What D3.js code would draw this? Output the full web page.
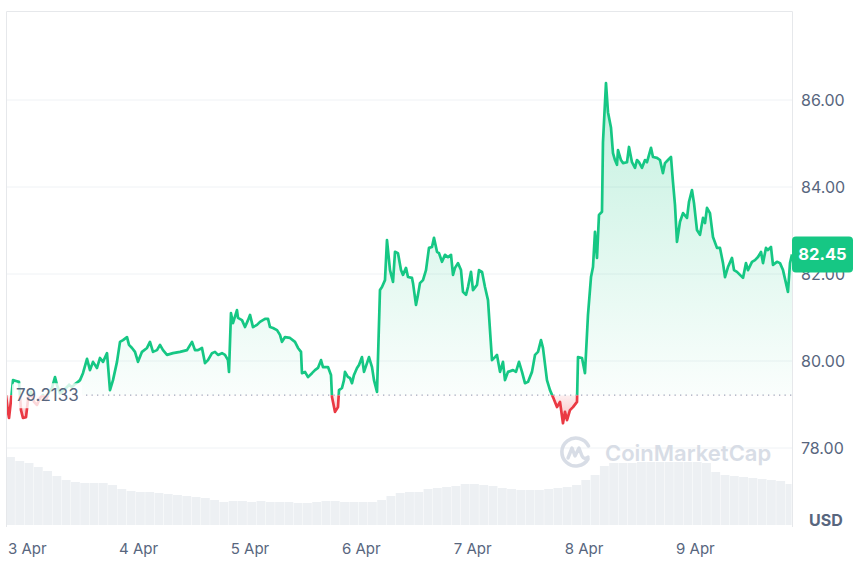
<!DOCTYPE html>
<html>
<head>
<meta charset="utf-8">
<script src="https://cdn.jsdelivr.net/npm/d3@7"></script>
<style>
  html, body { margin: 0; padding: 0; background: #ffffff; }
  svg { display: block; font-family: Inter, "Noto Sans", sans-serif; }
</style>
</head>
<body>
<svg id="chart" width="859" height="561"></svg>
<script>
// ---------- DATA ----------
const startTime = Date.UTC(2025, 3, 2, 19, 25);   // 2 Apr 19:25 UTC
const spanHours = 169.4;
const baselinePrice = 79.2133;
const lastPrice = 82.45;
const yTickValues = [78, 80, 82, 84, 86];
const dayTicks = ["3 Apr", "4 Apr", "5 Apr", "6 Apr", "7 Apr", "8 Apr", "9 Apr"];

// hours since start
const priceHours = [
  0,0.43,0.65,1.08,1.51,2.16,2.80,3.23,3.66,4.31,4.74,5.39,6.03,6.68,7.33,7.97,8.62,9.27,9.91,10.56,10.99,11.64,12.28,12.93,13.58,14.22,14.87,15.52,
  15.95,16.59,17.46,18.10,18.75,19.61,20.26,20.91,21.77,22.41,23.06,23.92,24.57,25.22,26.08,26.51,27.16,27.80,28.45,29.31,30.39,31.03,31.68,32.54,33.19,33.84,34.70,35.99,37.50,39.01,40.09,40.73,41.38,42.24,42.89,43.53,44.40,45.04,45.69,46.55,47.20,47.84,48.06,48.49,48.92,49.78,50.00,50.86,51.51,52.16,52.59,53.23,54.09,54.74,55.82,56.47,56.90,57.54,58.41,59.05,59.48,60.13,61.21,62.28,62.93,63.58,63.79,64.44,65.09,65.95,66.59,67.24,67.89,68.32,69.40,70.04,70.26,70.91,71.55,71.77,72.41,72.84,73.06,73.71,74.14,74.57,75.00,75.65,76.08,76.72,77.16,77.80,78.23,78.88,79.31,79.96,
  80.60,81.03,81.68,82.11,82.76,83.41,83.84,84.48,85.13,85.56,86.21,86.64,87.50,87.72,88.36,88.79,89.22,89.87,90.52,91.16,91.81,92.24,92.89,93.32,93.97,94.61,95.26,95.91,96.34,96.77,97.41,98.06,98.49,99.14,99.57,100.22,100.65,101.51,101.94,102.59,103.23,103.88,104.74,105.39,105.82,106.47,107.11,107.54,108.19,109.27,109.91,110.56,111.21,111.85,112.50,113.36,114.01,114.66,115.30,115.73,116.59,117.24,117.89,118.75,119.40,120.04,120.47,120.91,121.55,122.20,123.06,
  123.28,124.14,124.78,125.43,126.08,126.51,126.94,127.37,127.80,128.45,128.66,129.31,129.74,130.39,130.82,131.25,131.68,131.90,132.54,132.97,133.84,134.27,134.91,135.56,135.99,136.42,137.07,137.72,138.15,139.01,139.44,140.30,140.95,141.59,142.03,142.67,143.32,143.75,144.18,144.61,145.26,145.91,146.77,147.20,147.84,148.28,148.92,149.57,150.22,150.65,151.08,151.72,152.37,153.23,153.88,154.53,154.96,155.60,156.47,156.90,157.54,158.19,158.84,159.48,159.91,160.78,161.42,162.07,162.72,163.15,163.79,164.22,164.87,165.30,166.16,166.81,167.46,168.10,168.53,168.97,169.40
];
const prices = [
  79.2133,78.83,78.69,79.10,79.56,79.54,79.52,78.87,78.69,78.71,79.10,79.29,79.06,78.99,79.15,79.22,79.10,79.29,79.38,79.63,79.45,79.26,79.33,79.38,79.45,79.40,79.47,79.52,
  79.56,79.72,80.05,79.79,79.98,79.84,80.07,79.98,80.18,79.33,79.56,79.98,80.44,80.48,80.55,80.37,80.30,80.21,79.98,80.21,80.30,80.44,80.21,80.25,80.37,80.25,80.14,80.18,80.21,80.25,80.44,80.25,80.25,80.30,79.95,80.02,80.18,80.21,80.14,80.18,80.14,80.02,79.75,81.10,80.87,81.17,80.99,80.94,80.78,80.94,81.06,80.78,80.83,80.90,80.97,80.97,80.78,80.76,80.71,80.60,80.44,80.55,80.53,80.44,80.30,80.21,79.72,79.75,79.63,79.72,79.79,79.84,80.02,79.86,79.86,79.68,79.17,78.83,78.94,79.33,79.38,79.56,79.75,79.63,79.61,79.49,79.68,79.84,79.91,80.09,79.75,79.95,80.09,79.86,79.56,79.29,
  81.63,81.70,81.86,82.78,82.09,81.82,82.51,82.48,82.09,81.98,82.14,81.93,81.91,81.79,81.29,81.52,81.79,81.86,82.09,82.60,82.62,82.83,82.51,82.48,82.28,82.44,82.39,82.44,81.98,82.14,82.25,82.09,81.59,81.52,81.70,82.05,81.63,81.75,82.09,82.05,81.70,81.40,80.02,80.09,80.14,79.75,79.98,79.56,79.75,79.79,79.75,79.98,79.75,79.49,79.52,79.75,80.14,80.21,80.48,80.30,79.56,79.33,79.17,78.94,79.06,78.57,78.83,78.64,78.87,78.94,79.06,
  80.09,80.07,79.72,81.06,81.93,82.16,82.97,82.37,83.36,83.43,85.03,86.39,85.72,85.36,84.78,84.62,84.51,84.85,84.62,84.55,84.57,84.92,84.57,84.44,84.62,84.57,84.44,84.62,84.57,84.90,84.69,84.67,84.62,84.32,84.55,84.62,84.69,84.11,83.59,82.74,83.20,83.40,83.29,83.66,83.93,83.63,83.01,82.90,83.29,83.17,83.52,83.40,82.85,82.60,82.60,82.25,81.93,82.16,82.37,82.09,82.05,81.98,81.91,82.25,82.09,82.28,82.32,82.39,82.51,82.25,82.60,82.55,82.62,82.21,82.28,82.25,82.09,81.79,81.59,82.25,82.45
];
// 24h volume (million USD), one value every 2 hours from start
const volumeStepHours = 2;
const volumes = [
  1360,1280,1240,1160,1080,980,900,860,840,840,840,800,720,680,660,660,640,620,600,580,560,540,500,460,480,480,460,480,460,460,
  460,440,440,460,480,480,460,460,460,460,500,580,640,660,660,720,740,760,780,820,820,800,780,740,720,700,700,700,720,740,
  760,800,900,1000,1180,1240,1240,1240,1260,1260,1260,1260,1260,1260,1260,1240,1060,1000,980,960,940,920,900,880,820
];

// ---------- CHART ----------
const svg = d3.select("#chart");
const L = 6, R = 792, T = 11, B = 525;
const HOUR = 3600 * 1000;
const t0 = new Date(startTime);
const t1 = new Date(startTime + spanHours * HOUR);

const x = d3.scaleUtc().domain([t0, t1]).range([L, R]);
const y = d3.scaleLinear().domain([78, 86]).range([448, 100]);
const yVol = d3.scaleLinear().domain([0, 1500]).range([B, B - 75]);

const data = priceHours.map((h, i) => ({ t: new Date(startTime + h * HOUR), p: prices[i] }));
const yb = y(baselinePrice);

const defs = svg.append("defs");
const gG = defs.append("linearGradient").attr("id", "gGreen")
  .attr("gradientUnits", "userSpaceOnUse").attr("x1", 0).attr("x2", 0)
  .attr("y1", y(86.4)).attr("y2", yb);
gG.append("stop").attr("offset", 0).attr("stop-color", "#16c784").attr("stop-opacity", 0.26);
gG.append("stop").attr("offset", 1).attr("stop-color", "#16c784").attr("stop-opacity", 0.02);
const gR = defs.append("linearGradient").attr("id", "gRed")
  .attr("gradientUnits", "userSpaceOnUse").attr("x1", 0).attr("x2", 0)
  .attr("y1", yb).attr("y2", y(78.55));
gR.append("stop").attr("offset", 0).attr("stop-color", "#ea3943").attr("stop-opacity", 0.08);
gR.append("stop").attr("offset", 1).attr("stop-color", "#ea3943").attr("stop-opacity", 0.35);
defs.append("clipPath").attr("id", "clipUp").append("rect")
  .attr("x", L).attr("y", 0).attr("width", R - L).attr("height", yb);
defs.append("clipPath").attr("id", "clipDown").append("rect")
  .attr("x", L).attr("y", yb).attr("width", R - L).attr("height", 561 - yb);

// gridlines
svg.append("g").selectAll("line").data(yTickValues).join("line")
  .attr("x1", L).attr("x2", R).attr("y1", d => y(d)).attr("y2", d => y(d))
  .attr("stroke", "#eff2f5").attr("stroke-width", 1);

// volume bars
svg.append("g").selectAll("rect").data(volumes).join("rect")
  .attr("x", (v, i) => x(new Date(startTime + i * volumeStepHours * HOUR)))
  .attr("width", (v, i) => Math.max(0, Math.min(R, x(new Date(startTime + (i + 1) * volumeStepHours * HOUR))) - x(new Date(startTime + i * volumeStepHours * HOUR)) - 0.4))
  .attr("y", v => yVol(v)).attr("height", v => B - yVol(v))
  .attr("fill", "#edf0f3");

// watermark
const wm = svg.append("g").attr("opacity", 0.85);
const lg = wm.append("g").attr("transform", "translate(576,452)");
lg.append("path")
  .attr("d", "M 12.5 -6 A 14 14 0 1 0 12 7")
  .attr("fill", "none").attr("stroke", "#d2d8e2").attr("stroke-width", 3.6).attr("stroke-linecap", "round");
lg.append("path")
  .attr("d", "M -8 6 L -4 -4 L -1 4 L 3 -4 L 6 4 Q 8 8 12 5")
  .attr("fill", "none").attr("stroke", "#d2d8e2").attr("stroke-width", 3.4)
  .attr("stroke-linejoin", "round").attr("stroke-linecap", "round");
wm.append("text").attr("x", 605).attr("y", 461).text("CoinMarketCap")
  .attr("font-size", 22).attr("font-weight", 600).attr("fill", "#d2d8e2");

// areas
const area = d3.area().x(d => x(d.t)).y0(yb).y1(d => y(d.p));
const line = d3.line().x(d => x(d.t)).y(d => y(d.p));
svg.append("path").datum(data).attr("d", area).attr("fill", "url(#gGreen)").attr("clip-path", "url(#clipUp)");
svg.append("path").datum(data).attr("d", area).attr("fill", "url(#gRed)").attr("clip-path", "url(#clipDown)");
svg.append("path").datum(data).attr("d", line).attr("fill", "none").attr("stroke", "#16c784")
  .attr("stroke-width", 2.7).attr("stroke-linejoin", "round").attr("clip-path", "url(#clipUp)");
svg.append("path").datum(data).attr("d", line).attr("fill", "none").attr("stroke", "#ea3943")
  .attr("stroke-width", 2.7).attr("stroke-linejoin", "round").attr("clip-path", "url(#clipDown)");

// baseline dotted
svg.append("line").attr("x1", 86).attr("x2", R).attr("y1", yb).attr("y2", yb)
  .attr("stroke", "#a1a7bb").attr("stroke-width", 1.3).attr("stroke-dasharray", "1.3,4.2");

// baseline label
svg.append("rect").attr("x", 12).attr("y", yb - 12).attr("width", 70).attr("height", 25).attr("rx", 3)
  .attr("fill", "#ffffff").attr("opacity", 0.8);
svg.append("text").attr("x", 16).attr("y", yb).attr("dy", "0.35em").text(baselinePrice.toFixed(4))
  .attr("font-size", 17).attr("fill", "#58667e");

// frame
svg.append("path").attr("d", `M${L + 0.5},${B + 2} V${T + 0.5} H${R + 0.5} V${B + 2}`)
  .attr("fill", "none").attr("stroke", "#e6e8eb").attr("stroke-width", 1);

// y axis labels
svg.append("g").selectAll("text").data(yTickValues).join("text")
  .attr("x", 801).attr("y", d => y(d)).attr("dy", "0.35em")
  .text(d => d.toFixed(2)).attr("font-size", 16).attr("fill", "#58667e");
svg.append("text").attr("x", 809).attr("y", 520).attr("dy", "0.35em").text("USD")
  .attr("font-size", 16).attr("font-weight", 700).attr("fill", "#58667e");

// x axis labels
const dayDates = dayTicks.map((s, i) => new Date(Date.UTC(2025, 3, 3 + i)));
svg.append("g").selectAll("text").data(dayDates).join("text")
  .attr("x", d => x(d)).attr("y", 549).attr("dy", "0.35em").attr("text-anchor", "middle")
  .text((d, i) => dayTicks[i]).attr("font-size", 15).attr("fill", "#58667e");

// last price tag
const yl = y(lastPrice);
svg.append("rect").attr("x", 792).attr("y", yl - 18).attr("width", 61).attr("height", 36).attr("rx", 4)
  .attr("fill", "#16c784");
svg.append("text").attr("x", 822.5).attr("y", yl).attr("dy", "0.35em").attr("text-anchor", "middle")
  .text(lastPrice.toFixed(2)).attr("font-size", 16.5).attr("font-weight", 700).attr("fill", "#ffffff");
</script>
</body>
</html>
